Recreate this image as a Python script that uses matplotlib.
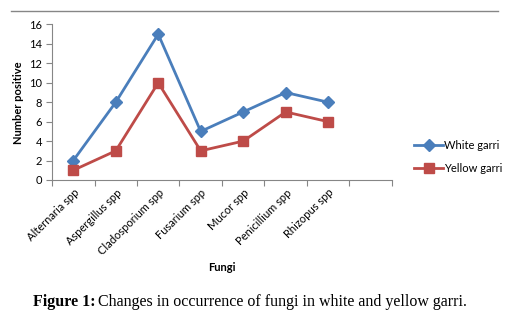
import matplotlib
matplotlib.use('Agg')
import matplotlib.pyplot as plt
from matplotlib.lines import Line2D
import numpy as np

# Dados
fungos = ['Alternaria spp', 'Aspergillus spp', 'Cladosporium spp', 'Fusarium spp',
          'Mucor spp', 'Penicillium spp', 'Rhizopus spp']
white_garri = [2, 8, 15, 5, 7, 9, 8]
yellow_garri = [1, 3, 10, 3, 4, 7, 6]

azul = '#4A7EBB'
vermelho = '#BE4B48'
cinza = '#868686'
fonte = 'Lato'

fig = plt.figure(figsize=(5.15, 3.22), dpi=100)
ax = fig.add_axes([0.101, 0.441, 0.66, 0.483])

x = np.arange(len(fungos)) + 0.5
ax.plot(x, white_garri, color=azul, lw=2, marker='D', markersize=6, label='White garri')
ax.plot(x, yellow_garri, color=vermelho, lw=2, marker='s', markersize=7.5, label='Yellow garri')

# 8 slots de categoria (o ultimo fica vazio)
ax.set_xlim(0, 8)
ax.set_ylim(0, 16)
ax.set_yticks(range(0, 17, 2))
ax.set_xticks(range(0, 9))
ax.set_xticklabels([])
ax.set_xticks(x, minor=True)
ax.set_xticklabels(fungos, minor=True, rotation=45, ha='right', va='top',
                   rotation_mode='anchor', fontsize=8, family=fonte)
ax.tick_params(axis='x', which='major', direction='out', length=4, color=cinza)
ax.tick_params(axis='x', which='minor', length=0, pad=5)
ax.tick_params(axis='y', direction='out', length=4, color=cinza, labelsize=8, pad=3)
for lab in ax.get_yticklabels():
    lab.set_family(fonte)

for lado in ['top', 'right']:
    ax.spines[lado].set_visible(False)
for lado in ['left', 'bottom']:
    ax.spines[lado].set_color(cinza)

ax.set_ylabel('Number positive', fontsize=8, fontweight='bold', family=fonte, labelpad=4)
fig.text(0.431, 0.168, 'Fungi', fontsize=8, fontweight='bold', family=fonte,
         ha='center', va='center')

fig.legend(loc='center left', bbox_to_anchor=(0.785, 0.512), frameon=False,
           prop={'family': fonte, 'size': 8}, handlelength=2.6, handletextpad=0.1,
           labelspacing=1.1)

# Linha cinza no topo
fig.add_artist(Line2D([11 / 515, 498 / 515], [0.966, 0.966], color=cinza, lw=1))

# Legenda da figura
fig.text(0.064, 0.062, 'Figure 1:', fontsize=11.5, fontweight='bold',
         family='Liberation Serif', ha='left', va='center')
fig.text(0.19, 0.062, 'Changes in occurrence of fungi in white and yellow garri.',
         fontsize=11.5, family='Liberation Serif', ha='left', va='center')

fig.savefig('out.png', dpi=100)
